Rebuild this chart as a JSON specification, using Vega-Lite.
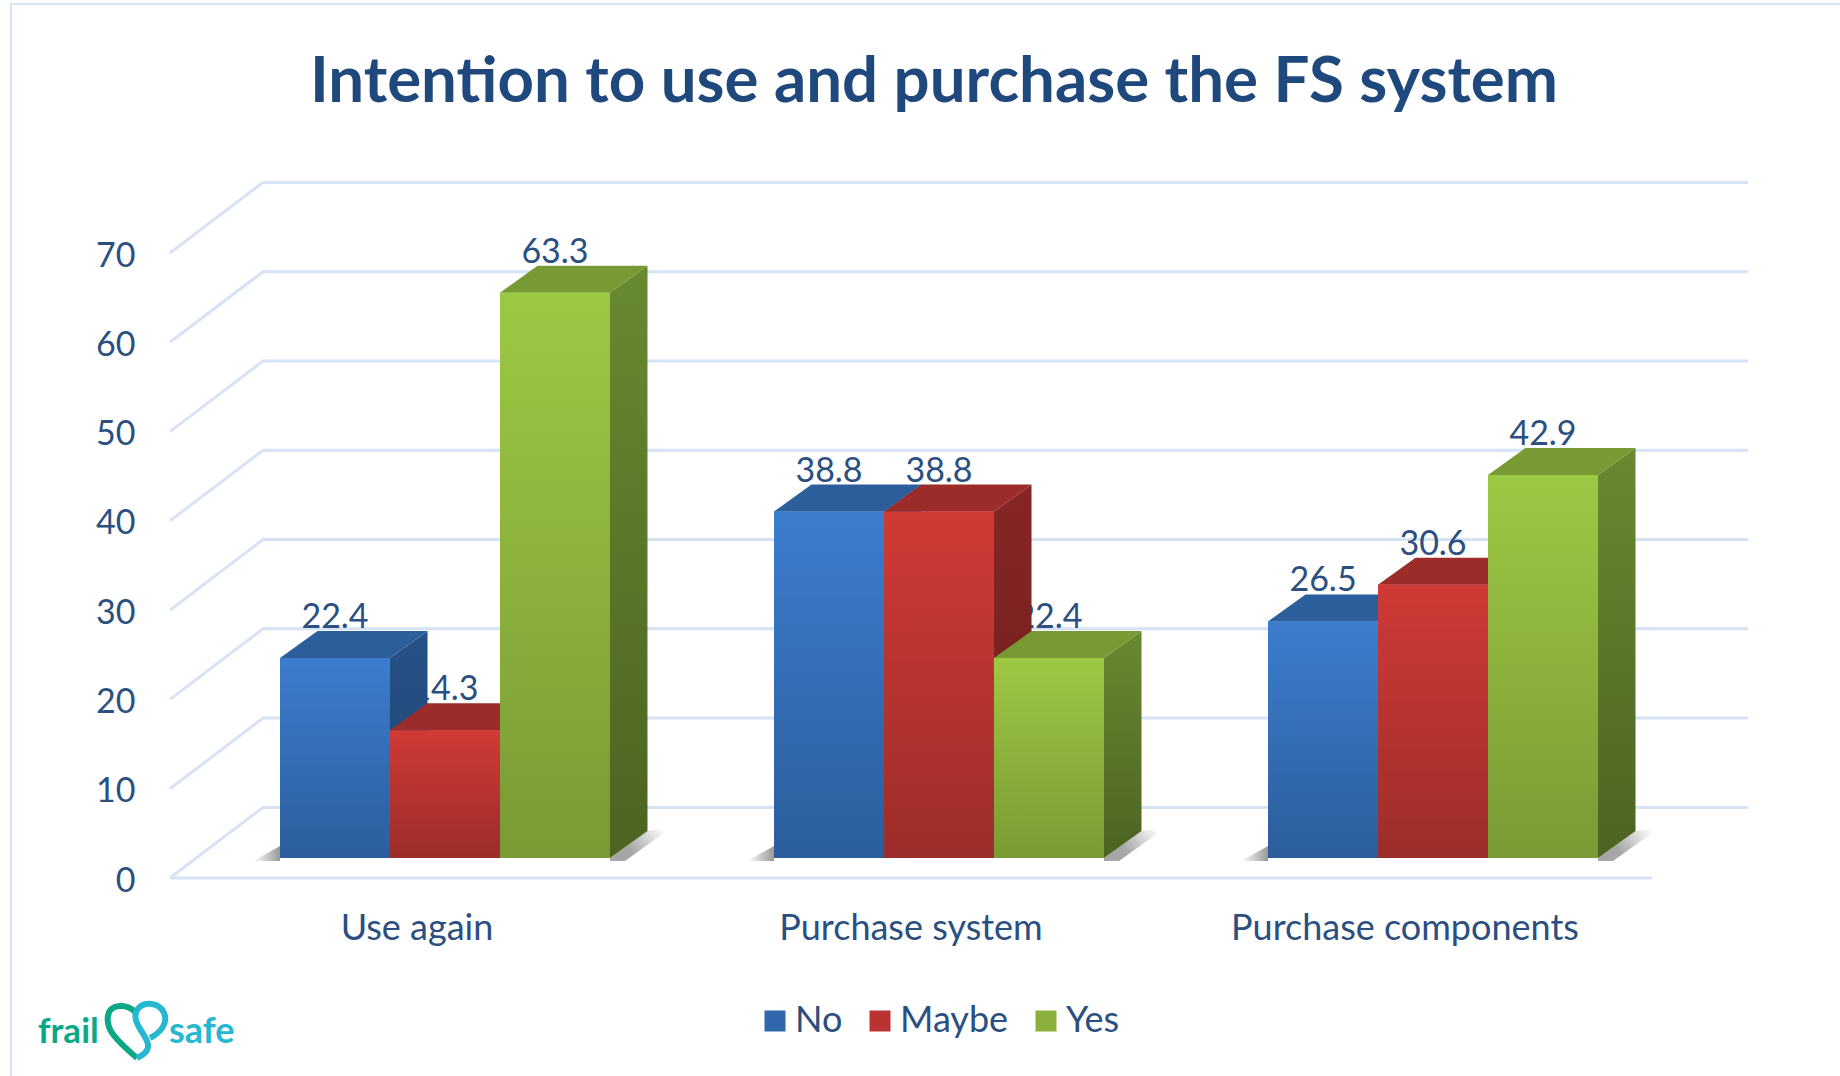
{"$schema":"https://vega.github.io/schema/vega-lite/v6.json","autosize":"none","width":1318,"height":625,"padding":{"left":280,"top":233,"right":242,"bottom":218},"background":"white","title":{"text":"Intention to use and purchase the FS system","anchor":"middle","frame":"group","dx":-5,"offset":-166,"baseline":"alphabetic","font":"Lato","fontSize":63.6,"fontWeight":"bold","color":"#1F497D"},"config":{"view":{"stroke":null}},"datasets":{"bars":[{"group":"Use again","series":"No","value":22.4},{"group":"Use again","series":"Maybe","value":14.3},{"group":"Use again","series":"Yes","value":63.3},{"group":"Purchase system","series":"No","value":38.8},{"group":"Purchase system","series":"Maybe","value":38.8},{"group":"Purchase system","series":"Yes","value":22.4},{"group":"Purchase components","series":"No","value":26.5},{"group":"Purchase components","series":"Maybe","value":30.6},{"group":"Purchase components","series":"Yes","value":42.9}],"ticks":[{"tick":0},{"tick":10},{"tick":20},{"tick":30},{"tick":40},{"tick":50},{"tick":60},{"tick":70}],"decor":[{"element":"decor"}]},"data":{"name":"bars"},"layer":[{"data":{"name":"decor"},"mark":{"type":"point","shape":"M-928,530.5L-928,-541.5L901,-541.5","size":4,"filled":false,"stroke":"#D6E3F5","strokeWidth":2,"opacity":1}},{"data":{"name":"ticks"},"mark":{"type":"point","shape":"M-769,20L-676,-50.6L809,-50.6","size":4,"filled":false,"stroke":"#D6E3F5","strokeWidth":3,"opacity":1},"encoding":{"y":{"field":"tick","type":"quantitative","scale":{"domain":[0,70],"nice":false},"axis":{"title":null,"values":[0,10,20,30,40,50,60,70],"domain":false,"ticks":false,"grid":false,"labelPadding":145,"labelOffset":23,"labelFont":"Lato","labelFontSize":34,"labelColor":"#2A4F80"}}}},{"data":{"values":[{"tick":0}]},"mark":{"type":"point","shape":"M-769,20L713,20","size":4,"filled":false,"stroke":"#D6E3F5","strokeWidth":3,"opacity":1},"encoding":{"y":{"field":"tick","type":"quantitative"}}},{"transform":[{"filter":"datum.series==='No'"}],"mark":{"type":"point","shape":"M-165,-12L-165,3L-192,3Z","size":4,"filled":true,"stroke":null,"opacity":1,"fill":{"gradient":"linear","x1":0,"y1":0,"x2":1,"y2":0,"stops":[{"offset":0,"color":"rgba(0,0,0,0)"},{"offset":1,"color":"rgba(0,0,0,0.4)"}]}},"encoding":{"x":{"field":"group","type":"nominal","sort":["Use again","Purchase system","Purchase components"]},"y":{"datum":0,"type":"quantitative"}}},{"transform":[{"filter":"datum.series==='No'"}],"mark":{"type":"point","shape":"M165,3L165,0L202,-27L226,-30L180,3Z","size":4,"filled":true,"stroke":null,"opacity":1,"fill":{"gradient":"linear","x1":0.3,"y1":0.6,"x2":1,"y2":0.3,"stops":[{"offset":0,"color":"rgba(0,0,0,0.35)"},{"offset":1,"color":"rgba(0,0,0,0)"}]}},"encoding":{"x":{"field":"group","type":"nominal","sort":["Use again","Purchase system","Purchase components"]},"y":{"datum":0,"type":"quantitative"}}},{"mark":{"type":"text","font":"Lato","fontSize":34,"color":"#2A4F80","dy":-40},"encoding":{"x":{"field":"group","type":"nominal","sort":["Use again","Purchase system","Purchase components"]},"xOffset":{"field":"series","type":"nominal","scale":{"domain":["No","Maybe","Yes"]}},"y":{"field":"value","type":"quantitative"},"text":{"field":"value","type":"quantitative","format":".1f"}}},{"mark":{"type":"bar"},"encoding":{"x":{"field":"group","type":"nominal","sort":["Use again","Purchase system","Purchase components"],"scale":{"paddingInner":0.332,"paddingOuter":0},"axis":{"title":null,"labelAngle":0,"labelAlign":"center","labelLimit":500,"domain":false,"ticks":false,"labelPadding":70,"labelOffset":-28,"labelFont":"Lato","labelFontSize":36,"labelColor":"#2A4F80"}},"xOffset":{"field":"series","type":"nominal","scale":{"domain":["No","Maybe","Yes"],"paddingInner":0,"paddingOuter":0}},"y":{"field":"value","type":"quantitative"},"color":{"field":"series","type":"nominal","scale":{"domain":["No","Maybe","Yes"],"range":["#2F66AC","#BB3330","#8CAF3C"]},"legend":{"title":null,"orient":"none","legendX":477,"legendY":770,"direction":"horizontal","symbolType":"square","symbolSize":441,"symbolStrokeWidth":0,"labelFont":"Lato","labelFontSize":36,"labelColor":"#2A4F80","labelOffset":2,"columnPadding":19}}}},
{"transform":[{"filter":"datum.series==='No'"}],"mark":{"type":"point","size":4,"filled":true,"opacity":1,"stroke":null,"fill":{"gradient":"linear","x1":0,"y1":0,"x2":0,"y2":1,"stops":[{"offset":0,"color":"#265288"},{"offset":1,"color":"#1F4470"}]}},"encoding":{"x":{"field":"group","type":"nominal","sort":["Use again","Purchase system","Purchase components"]},"xOffset":{"field":"series","type":"nominal","scale":{"domain":["No","Maybe","Yes"]}},"y":{"field":"value","type":"quantitative"},"shape":{"field":"value","type":"nominal","legend":null,"scale":{"domain":[22.4,14.3,63.3,38.8,30.6,26.5,42.9],"range":["M55,0L92.5,-27L92.5,173L55,200Z","M55,0L92.5,-27L92.5,100.7L55,127.7Z","M55,0L92.5,-27L92.5,538.3L55,565.3Z","M55,0L92.5,-27L92.5,319.5L55,346.5Z","M55,0L92.5,-27L92.5,246.3L55,273.3Z","M55,0L92.5,-27L92.5,209.6L55,236.6Z","M55,0L92.5,-27L92.5,356.1L55,383.1Z"]}}}},
{"transform":[{"filter":"datum.series==='No'"}],"mark":{"type":"point","shape":"M-55,0L-17.5,-27L92.5,-27L55,0Z","size":4,"filled":true,"fill":"#2C5E9C","stroke":null,"opacity":1},"encoding":{"x":{"field":"group","type":"nominal","sort":["Use again","Purchase system","Purchase components"]},"xOffset":{"field":"series","type":"nominal","scale":{"domain":["No","Maybe","Yes"]}},"y":{"field":"value","type":"quantitative"}}},
{"transform":[{"filter":"datum.series==='No'"}],"mark":{"type":"bar","fill":{"gradient":"linear","x1":0,"y1":0,"x2":0,"y2":1,"stops":[{"offset":0,"color":"#3C7DCE"},{"offset":1,"color":"#2C5E9C"}]}},"encoding":{"x":{"field":"group","type":"nominal","sort":["Use again","Purchase system","Purchase components"]},"xOffset":{"field":"series","type":"nominal","scale":{"domain":["No","Maybe","Yes"]}},"y":{"field":"value","type":"quantitative"}}},
{"transform":[{"filter":"datum.series==='Maybe'"}],"mark":{"type":"point","size":4,"filled":true,"opacity":1,"stroke":null,"fill":{"gradient":"linear","x1":0,"y1":0,"x2":0,"y2":1,"stops":[{"offset":0,"color":"#862624"},{"offset":1,"color":"#6E1F1D"}]}},"encoding":{"x":{"field":"group","type":"nominal","sort":["Use again","Purchase system","Purchase components"]},"xOffset":{"field":"series","type":"nominal","scale":{"domain":["No","Maybe","Yes"]}},"y":{"field":"value","type":"quantitative"},"shape":{"field":"value","type":"nominal","legend":null}}},
{"transform":[{"filter":"datum.series==='Maybe'"}],"mark":{"type":"point","shape":"M-55,0L-17.5,-27L92.5,-27L55,0Z","size":4,"filled":true,"fill":"#9B2C29","stroke":null,"opacity":1},"encoding":{"x":{"field":"group","type":"nominal","sort":["Use again","Purchase system","Purchase components"]},"xOffset":{"field":"series","type":"nominal","scale":{"domain":["No","Maybe","Yes"]}},"y":{"field":"value","type":"quantitative"}}},
{"transform":[{"filter":"datum.series==='Maybe'"}],"mark":{"type":"bar","fill":{"gradient":"linear","x1":0,"y1":0,"x2":0,"y2":1,"stops":[{"offset":0,"color":"#D03A36"},{"offset":1,"color":"#9C2D2A"}]}},"encoding":{"x":{"field":"group","type":"nominal","sort":["Use again","Purchase system","Purchase components"]},"xOffset":{"field":"series","type":"nominal","scale":{"domain":["No","Maybe","Yes"]}},"y":{"field":"value","type":"quantitative"}}},
{"transform":[{"filter":"datum.series==='Yes'"}],"mark":{"type":"point","size":4,"filled":true,"opacity":1,"stroke":null,"fill":{"gradient":"linear","x1":0,"y1":0,"x2":0,"y2":1,"stops":[{"offset":0,"color":"#688A30"},{"offset":1,"color":"#4C6322"}]}},"encoding":{"x":{"field":"group","type":"nominal","sort":["Use again","Purchase system","Purchase components"]},"xOffset":{"field":"series","type":"nominal","scale":{"domain":["No","Maybe","Yes"]}},"y":{"field":"value","type":"quantitative"},"shape":{"field":"value","type":"nominal","legend":null}}},
{"transform":[{"filter":"datum.series==='Yes'"}],"mark":{"type":"point","shape":"M-55,0L-17.5,-27L92.5,-27L55,0Z","size":4,"filled":true,"fill":"#789A35","stroke":null,"opacity":1},"encoding":{"x":{"field":"group","type":"nominal","sort":["Use again","Purchase system","Purchase components"]},"xOffset":{"field":"series","type":"nominal","scale":{"domain":["No","Maybe","Yes"]}},"y":{"field":"value","type":"quantitative"}}},
{"transform":[{"filter":"datum.series==='Yes'"}],"mark":{"type":"bar","fill":{"gradient":"linear","x1":0,"y1":0,"x2":0,"y2":1,"stops":[{"offset":0,"color":"#9DC843"},{"offset":1,"color":"#7A9A35"}]}},"encoding":{"x":{"field":"group","type":"nominal","sort":["Use again","Purchase system","Purchase components"]},"xOffset":{"field":"series","type":"nominal","scale":{"domain":["No","Maybe","Yes"]}},"y":{"field":"value","type":"quantitative"}}},
{"data":{"name":"decor"},"mark":{"type":"point","shape":"M-804,466.5C-812,458 -829,458 -831,470C-833,482 -828,490 -802,512.5","size":4,"filled":false,"stroke":"#0BA888","strokeWidth":6,"opacity":1}},
{"data":{"name":"decor"},"mark":{"type":"point","shape":"M-789,492.5C-777,486.5 -771,476.5 -775,467.5C-779,457.5 -795,454.5 -802,464.5C-807,474.5 -799,482.5 -794,491.5C-788,501.5 -791,507.5 -802,512.5","size":4,"filled":false,"stroke":"#25B8D0","strokeWidth":6,"opacity":1}},
{"data":{"name":"decor"},"mark":{"type":"text","text":"frail","font":"Lato","fontSize":35,"fontWeight":"bold","color":"#0BA888","align":"left","baseline":"alphabetic","dx":-901,"dy":497.5}},
{"data":{"name":"decor"},"mark":{"type":"text","text":"safe","font":"Lato","fontSize":36,"fontWeight":"bold","color":"#25B8D0","align":"left","baseline":"alphabetic","dx":-770,"dy":497.5}}
]}
